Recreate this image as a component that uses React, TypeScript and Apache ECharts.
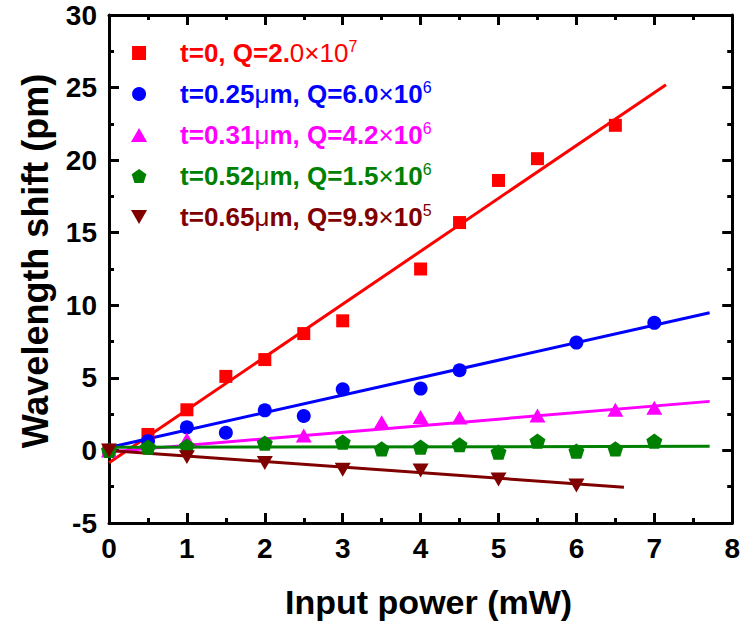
import React, { useEffect, useRef } from "react";
import * as echarts from "echarts";

const FONT = 'Arial, "Liberation Sans", sans-serif';

// Measured points [input power (mW), wavelength shift (pm)]
const redPoints = [[0, 0], [0.5, 1.1], [1, 2.8], [1.5, 5.1], [2, 6.26], [2.5, 8.05], [3, 8.93], [4, 12.5], [4.5, 15.7], [5, 18.6], [5.5, 20.1], [6.5, 22.4]];
const bluePoints = [[0, 0], [0.5, 0.64], [1, 1.59], [1.5, 1.22], [2, 2.76], [2.5, 2.37], [3, 4.21], [4, 4.26], [4.5, 5.52], [6, 7.43], [7, 8.79]];
const magentaPoints = [[0, 0], [1, 0.75], [2.5, 1.03], [3.5, 1.95], [4, 2.3], [4.5, 2.26], [5.5, 2.41], [6.5, 2.8], [7, 2.94]];
const greenPoints = [[0, 0], [0.5, 0.23], [1, 0.3], [2, 0.5], [3, 0.57], [3.5, 0.11], [4, 0.23], [4.5, 0.39], [5, -0.11], [5.5, 0.64], [6, -0.05], [6.5, 0.11], [7, 0.64]];
const brownPoints = [[0, 0], [1, -0.46], [2, -0.87], [3, -1.33], [4, -1.38], [5, -2.0], [6, -2.42]];

// Linear fits (end points)
const redFit = [[0, -0.85], [7.15, 25.2]];
const blueFit = [[0, 0.2], [7.71, 9.48]];
const magentaFit = [[0, -0.1], [7.71, 3.38]];
const greenFit = [[0, 0.22], [7.71, 0.28]];
const brownFit = [[0, 0.0], [6.61, -2.53]];

const seriesNames = [
  "t=0, Q=2.0×10^7",
  "t=0.25μm, Q=6.0×10^6",
  "t=0.31μm, Q=4.2×10^6",
  "t=0.52μm, Q=1.5×10^6",
  "t=0.65μm, Q=9.9×10^5",
];
const legendRich = [
  "{b|t=0, Q=2.}{r|0×10}{s|7}",
  "{b|t=0.25}{r|μ}{b|m, Q=6.0}{r|×}{b|10}{s|6}",
  "{b|t=0.31}{r|μ}{b|m, Q=4.2}{r|×}{b|10}{s|6}",
  "{b|t=0.52}{r|μ}{b|m, Q=1.5}{r|×}{b|10}{s|6}",
  "{b|t=0.65}{r|μ}{b|m, Q=9.9}{r|×}{b|10}{s|5}",
];
const colors = ["#ff0000", "#0000ff", "#ff00ff", "#008000", "#800000"];

const SQUARE = "path://M0 0 L100 0 L100 100 L0 100 Z";
const PENTAGON = "path://M50 0 L97.6 34.5 L79.4 90.5 L20.6 90.5 L2.4 34.5 Z";
const TRI_UP = "path://M50 0 L100 87 L0 87 Z";
const TRI_DOWN = "path://M0 0 L100 0 L50 87 Z";
const symbols = [SQUARE, "circle", TRI_UP, PENTAGON, TRI_DOWN];
const symbolSizes = [13, 14, 16, 16, 16];

export default function App() {
  const ref = useRef<HTMLDivElement>(null);
  useEffect(() => {
    if (!ref.current) return;
    const chart = echarts.init(ref.current, null, { renderer: "svg" });
    const points = [redPoints, bluePoints, magentaPoints, greenPoints, brownPoints];
    const fits = [redFit, blueFit, magentaFit, greenFit, brownFit];

    const axisLine = { show: true, onZero: false, lineStyle: { color: "#000", width: 3 } };
    const axisTick = { show: true, inside: true, length: 10, lineStyle: { color: "#000", width: 3 } };
    const minorTick = { show: true, splitNumber: 2, length: 5, lineStyle: { color: "#000", width: 3 } };
    const labelStyle = { fontSize: 28, fontWeight: "bold", color: "#000", fontFamily: FONT };

    const series: any[] = [];
    fits.forEach((f, i) => {
      series.push({
        name: "fit" + i,
        type: "line",
        data: f,
        showSymbol: false,
        symbol: "none",
        lineStyle: { color: colors[i], width: 3 },
        z: 2,
        silent: true,
      });
    });
    points.forEach((p, i) => {
      series.push({
        name: seriesNames[i],
        type: "scatter",
        data: p,
        symbol: symbols[i],
        symbolSize: symbolSizes[i],
        symbolKeepAspect: true,
        itemStyle: { color: colors[i], opacity: 1 },
        z: 3 + i,
      });
    });

    chart.setOption({
      animation: false,
      backgroundColor: "#fff",
      grid: { left: 109, right: 8, top: 15, bottom: 103, containLabel: false },
      legend: {
        orient: "vertical",
        left: 126,
        top: 33,
        padding: 5,
        itemWidth: 72,
        itemHeight: 14,
        itemGap: 11,
        selectedMode: false,
        data: seriesNames.map((n, i) => ({
          name: n,
          icon: symbols[i],
          itemStyle: { color: colors[i] },
          textStyle: { color: colors[i] },
        })),
        formatter: (name: string) => legendRich[seriesNames.indexOf(name)],
        textStyle: {
          fontFamily: FONT,
          fontSize: 26,
          fontWeight: "bold",
          lineHeight: 30,
          rich: {
            b: { fontFamily: FONT, fontSize: 26, fontWeight: "bold", lineHeight: 30 },
            r: { fontFamily: FONT, fontSize: 26, fontWeight: "normal", lineHeight: 30 },
            s: { fontFamily: FONT, fontSize: 16, fontWeight: "normal", lineHeight: 16, verticalAlign: "top" },
          },
        },
      },
      xAxis: [
        {
          type: "value",
          min: 0,
          max: 8,
          interval: 1,
          position: "bottom",
          axisLine,
          axisTick,
          minorTick,
          splitLine: { show: false },
          axisLabel: { ...labelStyle, margin: 11 },
          name: "Input power (mW)",
          nameLocation: "middle",
          nameGap: 62,
          nameTextStyle: { fontSize: 34, fontWeight: "bold", color: "#000", fontFamily: FONT, padding: [0, 0, 0, 16] },
        },
        {
          type: "value",
          min: 0,
          max: 8,
          interval: 1,
          position: "top",
          axisLine,
          axisTick,
          minorTick,
          splitLine: { show: false },
          axisLabel: { show: false },
        },
      ],
      yAxis: [
        {
          type: "value",
          min: -5,
          max: 30,
          interval: 5,
          position: "left",
          axisLine,
          axisTick,
          minorTick,
          splitLine: { show: false },
          axisLabel: { ...labelStyle, margin: 12 },
          name: "Wavelength shift (pm)",
          nameLocation: "middle",
          nameGap: 56,
          nameTextStyle: { fontSize: 36, fontWeight: "bold", color: "#000", fontFamily: FONT, padding: [0, 0, 0, 16] },
        },
        {
          type: "value",
          min: -5,
          max: 30,
          interval: 5,
          position: "right",
          axisLine,
          axisTick,
          minorTick,
          splitLine: { show: false },
          axisLabel: { show: false },
        },
      ],
      series,
    });
    return () => chart.dispose();
  }, []);
  return (
    <div
      ref={ref}
      style={{ position: "fixed", left: 0, top: 0, width: 743, height: 626, background: "#fff" }}
    />
  );
}
